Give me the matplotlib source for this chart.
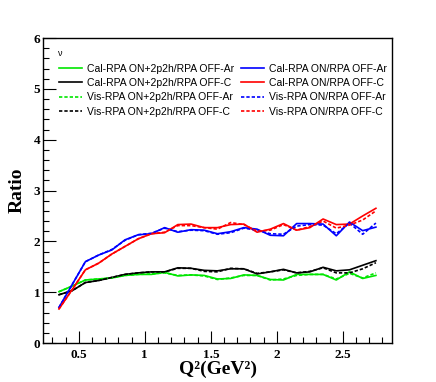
import numpy as np
import matplotlib
matplotlib.use("Agg")
import matplotlib.pyplot as plt
from matplotlib.ticker import MultipleLocator

# Q^2 bin centres (GeV^2)
q2 = [0.35, 0.45, 0.55, 0.65, 0.75, 0.85, 0.95, 1.05, 1.15, 1.25, 1.35, 1.45, 1.55,
      1.65, 1.75, 1.85, 1.95, 2.05, 2.15, 2.25, 2.35, 2.45, 2.55, 2.65, 2.75]

# with 2p2h
cal_2p2h_ar = [1.01, 1.12, 1.24, 1.26, 1.28, 1.33, 1.35, 1.35, 1.39, 1.32, 1.34, 1.33, 1.26,
               1.27, 1.34, 1.33, 1.25, 1.24, 1.35, 1.35, 1.35, 1.24, 1.40, 1.27, 1.33]
cal_2p2h_c = [0.95, 1.03, 1.19, 1.23, 1.29, 1.35, 1.38, 1.40, 1.40, 1.48, 1.47, 1.43, 1.42,
              1.46, 1.46, 1.36, 1.40, 1.45, 1.38, 1.40, 1.49, 1.42, 1.44, 1.53, 1.62]
vis_2p2h_ar = [1.01, 1.12, 1.24, 1.26, 1.28, 1.33, 1.35, 1.36, 1.38, 1.33, 1.34, 1.32, 1.25,
               1.28, 1.33, 1.33, 1.24, 1.26, 1.33, 1.35, 1.35, 1.26, 1.37, 1.28, 1.38]
vis_2p2h_c = [0.95, 1.03, 1.19, 1.23, 1.29, 1.35, 1.38, 1.40, 1.40, 1.47, 1.47, 1.41, 1.40,
              1.47, 1.46, 1.37, 1.40, 1.44, 1.38, 1.41, 1.48, 1.38, 1.38, 1.46, 1.58]

# RPA only
cal_ar = [0.70, 1.15, 1.60, 1.73, 1.83, 2.03, 2.13, 2.15, 2.27, 2.18, 2.23, 2.22, 2.15,
          2.19, 2.27, 2.24, 2.12, 2.11, 2.35, 2.35, 2.34, 2.11, 2.38, 2.21, 2.28]
cal_c = [0.67, 1.05, 1.44, 1.57, 1.75, 1.90, 2.05, 2.15, 2.17, 2.33, 2.34, 2.27, 2.27,
         2.33, 2.34, 2.18, 2.24, 2.35, 2.22, 2.27, 2.44, 2.33, 2.34, 2.50, 2.65]
vis_ar = [0.70, 1.15, 1.60, 1.73, 1.84, 2.02, 2.13, 2.16, 2.26, 2.19, 2.22, 2.21, 2.14,
          2.17, 2.26, 2.22, 2.15, 2.14, 2.30, 2.33, 2.32, 2.15, 2.36, 2.14, 2.36]
vis_c = [0.67, 1.05, 1.44, 1.57, 1.75, 1.90, 2.05, 2.15, 2.18, 2.31, 2.31, 2.27, 2.24,
         2.37, 2.33, 2.20, 2.22, 2.33, 2.22, 2.29, 2.40, 2.26, 2.32, 2.42, 2.60]

series = [
    ("Cal-RPA ON+2p2h/RPA OFF-Ar", cal_2p2h_ar, "#00e600", "-"),
    ("Cal-RPA ON+2p2h/RPA OFF-C", cal_2p2h_c, "black", "-"),
    ("Vis-RPA ON+2p2h/RPA OFF-Ar", vis_2p2h_ar, "#00e600", (0, (2, 1.2))),
    ("Vis-RPA ON+2p2h/RPA OFF-C", vis_2p2h_c, "black", (0, (2, 1.2))),
    ("Cal-RPA ON/RPA OFF-Ar", cal_ar, "blue", "-"),
    ("Cal-RPA ON/RPA OFF-C", cal_c, "red", "-"),
    ("Vis-RPA ON/RPA OFF-Ar", vis_ar, "blue", (0, (2, 1.2))),
    ("Vis-RPA ON/RPA OFF-C", vis_c, "red", (0, (2, 1.2))),
]

fig = plt.figure(figsize=(4.36, 3.82), dpi=100)
ax = fig.add_axes([0.0986, 0.102, 0.8005, 0.7985])

for label, vals, col, ls in series:
    ax.plot(q2, vals, color=col, ls=ls, lw=1.2, label=label)

ax.set_xlim(0.229, 2.872)
ax.set_ylim(0, 6)
ax.xaxis.set_minor_locator(MultipleLocator(0.1))
ax.yaxis.set_minor_locator(MultipleLocator(0.2))
ax.set_xticks([0.5, 1, 1.5, 2, 2.5])
ax.set_xticklabels(["0.5", "1", "1.5", "2", "2.5"], family="Liberation Serif",
                   fontweight="bold", fontsize=9.5)
ax.set_yticks([0, 1, 2, 3, 4, 5, 6])
ax.set_yticklabels(["0", "1", "2", "3", "4", "5", "6"], family="Liberation Serif",
                   fontweight="bold", fontsize=9.5)
ax.tick_params(which="both", direction="in", top=False, right=False, width=0.8)
ax.tick_params(which="major", length=9)
ax.tick_params(which="minor", length=4.5)
ax.tick_params(axis="x", pad=4)
ax.tick_params(axis="y", pad=2)
for sp in ax.spines.values():
    sp.set_linewidth(1.0)

ax.set_ylabel("Ratio", family="Liberation Serif", fontweight="bold", fontsize=14, labelpad=6)
fig.text(0.5, 0.033, "Q²(GeV²)", family="Liberation Serif", fontweight="bold",
         fontsize=14, ha="center", va="center")

ax.text(0.05, 0.95, "ν", transform=ax.transAxes, fontsize=6.5,
        family="Liberation Sans", va="center", ha="center")
ax.legend(loc="upper left", bbox_to_anchor=(0.035, 0.93), ncol=2, frameon=False,
          prop={"family": "Liberation Sans", "size": 7.5}, handlelength=2.2,
          handletextpad=0.5, columnspacing=0.6, labelspacing=0.42, borderaxespad=0)

fig.savefig("out.png", dpi=100)
